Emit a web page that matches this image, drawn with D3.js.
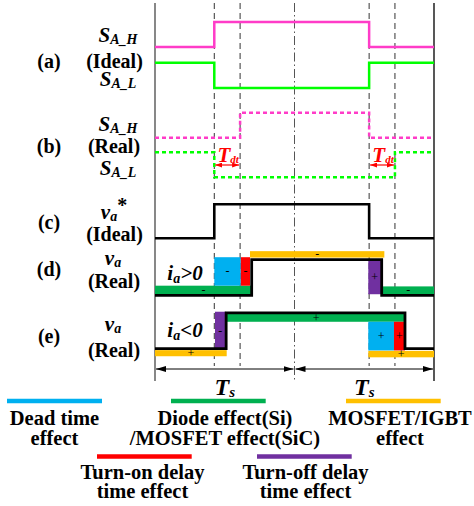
<!DOCTYPE html>
<html>
<head>
<meta charset="utf-8">
<script src="https://cdn.jsdelivr.net/npm/d3@7"></script>
<style>
  html, body { margin: 0; padding: 0; background: #fff; }
  svg text { font-family: "Liberation Serif", "Times New Roman", serif; font-weight: bold; }
</style>
</head>
<body>
<svg id="chart" width="474" height="506"></svg>
<script>
// ---------------- DATA ----------------
// time axis: two switching periods, Ts = 100 units
const periods = [0, 100, 200];
// switching instants (dashed reference lines): turn-on, turn-on + Tdt, turn-off, turn-off + Tdt
const instants = [42.5, 61, 153.5, 172];
// step waveforms: [time, level] (level holds after time)
const sahIdeal = [[0, 0], [42.5, 1], [153.5, 0], [200, 0]];
const salIdeal = [[0, 1], [42.5, 0], [153.5, 1], [200, 1]];
const sahReal  = [[0, 0], [61, 1], [153.5, 0], [200, 0]];
const salReal  = [[0, 1], [42.5, 0], [172, 1], [200, 1]];
const vaIdeal  = [[0, 0], [42.5, 1], [153.5, 0], [200, 0]];
const vaPos    = [[0, 0], [69.3, 1], [162.5, 0], [200, 0]];
const vaNeg    = [[0, 0], [51, 1], [179.2, 0], [200, 0]];
// effect regions: time span, level span, effect type, sign
const effectsPos = [
  { t0: 0,     t1: 69.7,  v0: 0.03,  v1: 0.27, type: "diode",   sign: "-" },
  { t0: 42.5,  t1: 61.5,  v0: 0.27,  v1: 1.07, type: "dead",    sign: "-" },
  { t0: 61.5,  t1: 68.1,  v0: 0.27,  v1: 1.07, type: "turnOn",  sign: "-" },
  { t0: 68.1,  t1: 164.4, v0: 1.06,  v1: 1.24, type: "mosfet",  sign: "-" },
  { t0: 152.9, t1: 162,   v0: 0.03,  v1: 0.99, type: "turnOff", sign: "+" },
  { t0: 163.2, t1: 200,   v0: 0.03,  v1: 0.25, type: "diode",   sign: "-" }
];
const effectsNeg = [
  { t0: 0,     t1: 51.4,  v0: -0.21, v1: -0.04, type: "mosfet",  sign: "+" },
  { t0: 43,    t1: 50.7,  v0: -0.02, v1: 1.03,  type: "turnOff", sign: "-" },
  { t0: 51.4,  t1: 179.7, v0: 0.75,  v1: 0.97,  type: "diode",   sign: "+" },
  { t0: 152.9, t1: 171.3, v0: -0.05, v1: 0.75,  type: "dead",    sign: "+" },
  { t0: 171.3, t1: 179.2, v0: -0.05, v1: 0.75,  type: "turnOn",  sign: "+" },
  { t0: 152.9, t1: 200,   v0: -0.24, v1: -0.06, type: "mosfet",  sign: "+" }
];
// legend entries
const legendKeys = ["dead", "diode", "mosfet", "turnOn", "turnOff"];
const legendLabels = [
  ["Dead time", "effect"],
  ["Diode effect(Si)", "/MOSFET effect(SiC)"],
  ["MOSFET/IGBT", "effect"],
  ["Turn-on delay", "time effect"],
  ["Turn-off delay", "time effect"]
];

// ---------------- STYLE / LAYOUT ----------------
const colors = { dead: "#00b0f0", diode: "#00b050", mosfet: "#ffc000", turnOn: "#ff0000", turnOff: "#7030a0" };
const svg = d3.select("#chart");
const x = d3.scaleLinear().domain([0, 200]).range([155, 434]);
const rows = {
  aH: d3.scaleLinear().domain([0, 1]).range([47, 22]),
  aL: d3.scaleLinear().domain([0, 1]).range([88, 62.7]),
  bH: d3.scaleLinear().domain([0, 1]).range([137.7, 112.7]),
  bL: d3.scaleLinear().domain([0, 1]).range([177.3, 152.3]),
  c:  d3.scaleLinear().domain([0, 1]).range([238.3, 204.3]),
  d:  d3.scaleLinear().domain([0, 1]).range([295.3, 259.7]),
  e:  d3.scaleLinear().domain([0, 1]).range([348.7, 312.8])
};

// arrow markers
const defs = svg.append("defs");
function marker(id, color, w, h, dir) {
  const m = defs.append("marker").attr("id", id)
    .attr("viewBox", `0 0 ${w} ${h}`).attr("refX", dir > 0 ? w : 0).attr("refY", h / 2)
    .attr("markerWidth", w).attr("markerHeight", h).attr("markerUnits", "userSpaceOnUse")
    .attr("orient", "auto");
  m.append("path").attr("d", dir > 0 ? `M0,0L${w},${h / 2}L0,${h}Z` : `M${w},0L0,${h / 2}L${w},${h}Z`).attr("fill", color);
}
marker("arrEnd", "#000", 10, 6, 1);
marker("arrStart", "#000", 10, 6, -1);
marker("rEnd", "#ff0000", 7, 5, 1);
marker("rStart", "#ff0000", 7, 5, -1);

// frame lines
svg.append("g").selectAll("line").data([periods[0], periods[2]]).join("line")
  .attr("x1", d => x(d)).attr("x2", d => x(d)).attr("y1", 3).attr("y2", 381)
  .attr("stroke", (d, i) => i === 0 ? "#555" : "#111").attr("stroke-width", 1.4);
svg.append("line").attr("x1", x(periods[1])).attr("x2", x(periods[1])).attr("y1", 3).attr("y2", 381)
  .attr("stroke", "#555").attr("stroke-width", 1).attr("stroke-dasharray", "9,3,1.5,3");
svg.append("g").selectAll("line").data(instants).join("line")
  .attr("x1", d => x(d)).attr("x2", d => x(d)).attr("y1", 3).attr("y2", 366)
  .attr("stroke", "#333").attr("stroke-width", 1).attr("stroke-dasharray", "6,4");

// effect bars
function drawEffects(data, ys) {
  const g = svg.append("g");
  g.selectAll("rect").data(data).join("rect")
    .attr("x", d => x(d.t0)).attr("width", d => x(d.t1) - x(d.t0))
    .attr("y", d => ys(d.v1)).attr("height", d => ys(d.v0) - ys(d.v1))
    .attr("fill", d => colors[d.type]);
  g.selectAll("text").data(data).join("text")
    .attr("x", d => (x(d.t0) + x(d.t1)) / 2).attr("y", d => (ys(d.v0) + ys(d.v1)) / 2 + 4)
    .attr("text-anchor", "middle").attr("font-size", 12).style("font-weight", "normal")
    .text(d => d.sign);
}
drawEffects(effectsPos, rows.d);
drawEffects(effectsNeg, rows.e);

// waveforms
function wave(data, ys, color, width, dash) {
  const line = d3.line().x(d => x(d[0])).y(d => ys(d[1])).curve(d3.curveStepAfter);
  svg.append("path").datum(data).attr("d", line).attr("fill", "none")
    .attr("stroke", color).attr("stroke-width", width)
    .attr("stroke-dasharray", dash || null).attr("stroke-linejoin", "miter");
}
wave(sahIdeal, rows.aH, "#ff3cc8", 2.5);
wave(salIdeal, rows.aL, "#00ff00", 2.5);
wave(sahReal, rows.bH, "#ff3cc8", 2.5, "4,3");
wave(salReal, rows.bL, "#00ff00", 2.5, "4,3");
wave(vaIdeal, rows.c, "#000", 2.6);
wave(vaPos, rows.d, "#000", 2.8);
wave(vaNeg, rows.e, "#000", 2.8);

// Tdt markers
[[instants[0], instants[1]], [instants[2], instants[3]]].forEach(([a, b]) => {
  svg.append("line").attr("x1", x(a) + 1).attr("x2", x(b) - 1).attr("y1", 165).attr("y2", 165)
    .attr("stroke", "#ff0000").attr("stroke-width", 1.2)
    .attr("marker-start", "url(#rStart)").attr("marker-end", "url(#rEnd)");
  const t = svg.append("text").attr("x", (x(a) + x(b)) / 2 + 1).attr("y", 161.5)
    .attr("text-anchor", "middle").attr("fill", "#ff0000").style("font-style", "italic");
  t.append("tspan").attr("font-size", 21).text("T");
  t.append("tspan").attr("font-size", 11).attr("dy", 1).text("dt");
});

// Ts arrows
[[periods[0], periods[1]], [periods[1], periods[2]]].forEach(([a, b]) => {
  svg.append("line").attr("x1", x(a) + 1).attr("x2", x(b) - 1).attr("y1", 369).attr("y2", 369)
    .attr("stroke", "#000").attr("stroke-width", 1)
    .attr("marker-start", "url(#arrStart)").attr("marker-end", "url(#arrEnd)");
  const t = svg.append("text").attr("x", (x(a) + x(b)) / 2).attr("y", 395)
    .attr("text-anchor", "middle").style("font-style", "italic");
  t.append("tspan").attr("font-size", 24).text("T");
  t.append("tspan").attr("font-size", 15).attr("dy", 2).text("s");
});

// left labels
function plain(txt, cx, y, size) {
  svg.append("text").attr("x", cx).attr("y", y).attr("text-anchor", "middle")
    .attr("font-size", size || 20).text(txt);
}
function sub(main, subTxt, cx, y, sup) {
  const t = svg.append("text").attr("x", cx).attr("y", y).attr("text-anchor", "middle").style("font-style", "italic");
  t.append("tspan").attr("font-size", 21).text(main);
  t.append("tspan").attr("font-size", 14).attr("dy", 2).text(subTxt);
  if (sup) t.append("tspan").attr("font-size", 20).attr("dy", -9).style("font-style", "normal").text(sup);
  return t;
}
plain("(a)", 49, 68); plain("(Ideal)", 114.5, 68);
sub("S", "A_H", 118, 42); sub("S", "A_L", 118, 86);
plain("(b)", 49, 153); plain("(Real)", 114, 153);
sub("S", "A_H", 118, 131); sub("S", "A_H".replace("H", "L"), 118, 175);
plain("(c)", 49, 229); plain("(Ideal)", 114.5, 241);
sub("v", "a", 114, 219, "*");
plain("(d)", 49, 276); plain("(Real)", 114, 288);
sub("v", "a", 113, 265);
plain("(e)", 49, 343); plain("(Real)", 114, 357);
sub("v", "a", 113, 331);
function iLabel(rel, cx, y) {
  const t = svg.append("text").attr("x", cx).attr("y", y).attr("text-anchor", "middle").style("font-style", "italic");
  t.append("tspan").attr("font-size", 21).text("i");
  t.append("tspan").attr("font-size", 14).attr("dy", 3).text("a");
  t.append("tspan").attr("font-size", 21).attr("dy", -3).text(rel);
}
iLabel(">0", 185, 280);
iLabel("<0", 185, 337);

// legend
const legendPos = [
  { x0: 7,   x1: 102,   y: 401,   cx: 54.5,  b: [425, 445] },
  { x0: 171, x1: 265.7, y: 401,   cx: 225,   b: [425, 445] },
  { x0: 346, x1: 440.7, y: 401,   cx: 400,   b: [425, 445] },
  { x0: 97,  x1: 191.7, y: 456.5, cx: 142.5, b: [478.5, 498] },
  { x0: 257, x1: 351.7, y: 456.5, cx: 305.5, b: [478.5, 498] }
];
legendKeys.forEach((k, i) => {
  const p = legendPos[i];
  svg.append("line").attr("x1", p.x0).attr("x2", p.x1).attr("y1", p.y).attr("y2", p.y)
    .attr("stroke", colors[k]).attr("stroke-width", 4.5);
  legendLabels[i].forEach((s, j) => plain(s, p.cx, p.b[j], 20.5));
});
</script>
</body>
</html>
